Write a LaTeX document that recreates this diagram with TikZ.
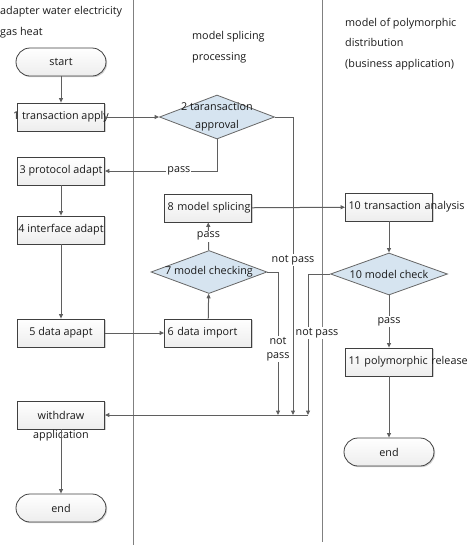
\documentclass[tikz,border=0pt]{standalone}
\usepackage{fontspec}
\setmainfont{Open Sans}
\usetikzlibrary{shapes.geometric,shadows,arrows.meta}
\definecolor{lanegray}{RGB}{128,128,128}
\definecolor{linegray}{RGB}{95,95,95}
\definecolor{checkblue}{RGB}{214,228,240}
\newcommand\boxtext[1]{\makebox[0pt]{#1}}

\begin{document}
\begin{tikzpicture}[
        x=1pt, y=-1pt,
        font=\fontsize{10.8}{12.5}\selectfont,
        every node/.style={text=black!90},
        flowbox/.style={draw=black!75, line width=0.8pt, top color=white, bottom color=gray!14,
                minimum width=87pt, minimum height=28pt, inner sep=0pt,
                drop shadow={shadow xshift=1.2pt, shadow yshift=-1.2pt, fill=gray!70}},
        leftbox/.style={text width=81pt, align=left},
        terminal/.style={draw=black!75, line width=0.8pt, rounded corners=14pt, top color=white, bottom color=gray!14,
                minimum width=90pt, minimum height=28pt, inner sep=0pt,
                drop shadow={shadow xshift=1.2pt, shadow yshift=-1.2pt, fill=gray!70}},
        check/.style={diamond, draw=black!60, line width=0.8pt, fill=checkblue, inner sep=0pt,
                minimum width=116pt, minimum height=43pt},
        flow/.style={draw=linegray, line width=1pt, -{Triangle[length=4.5pt,width=4pt]}},
        tag/.style={fill=white, inner sep=1pt}
    ]
    \useasboundingbox (0,0) rectangle (474,550);

    % lanes
    \draw[lanegray, line width=1pt] (133,0) -- (133,545);
    \draw[lanegray, line width=1pt] (322,0) -- (322,542);
    \node[anchor=west, align=left, inner sep=0pt] (laneadapt) at (0,22)
        {adapter water electricity\\[8pt]gas heat};
    \node[anchor=west, align=left, inner sep=0pt] (lanesplice) at (192,47)
        {model splicing\\[8pt]processing};
    \node[anchor=west, align=left, inner sep=0pt] (lanepoly) at (345,44)
        {model of polymorphic\\[8pt]distribution\\[8pt](business application)};

    % adapter lane
    \node[terminal] (start) at (61,62) {start};
    \node[flowbox] (apply) at (61,117) {\boxtext{1 transaction apply}};
    \node[flowbox] (protocol) at (61,171) {\boxtext{3 protocol adapt}};
    \node[flowbox] (interface) at (61,230) {\boxtext{4 interface adapt}};
    \node[flowbox] (adapt) at (61,333) {\boxtext{5 data apapt}};
    \node[flowbox, label={[inner sep=1pt]below:application}] (withdraw) at (61,415) {withdraw};
    \node[terminal] (endadapt) at (61,508) {end};

    % splicing lane
    \node[check, minimum width=115pt, minimum height=44pt, align=center] (approve) at (217,117)
        {\boxtext{2 taransaction}\\[6pt]\boxtext{approval}};
    \node[flowbox, leftbox] (splice) at (208,208) {\rlap{8 model splicing}};
    \node[check] (modelcheck) at (209,272) {\boxtext{7 model checking}};
    \node[flowbox, leftbox] (import) at (208,333) {\rlap{6 data import}};

    % polymorphic lane
    \node[flowbox, leftbox] (analysis) at (389,207) {\rlap{10 transaction analysis}};
    \node[check, minimum width=117pt, minimum height=42pt] (polycheck) at (389,274) {\boxtext{10 model check}};
    \node[flowbox, leftbox] (release) at (389,362) {\rlap{11 polymorphic release}};
    \node[terminal] (endpoly) at (389,452) {end};

    \coordinate (back7) at (278,415);
    \coordinate (back2) at (293,415);
    \coordinate (back10) at (308,415);

    \draw[flow] (start) -- (apply);
    \draw[flow] (apply) -- (approve);
    \draw[flow] (approve.south) |- node[tag, pos=0.67] {pass} (protocol.east);
    \draw[flow] (protocol) -- (interface);
    \draw[flow] (interface) -- (adapt);
    \draw[flow] (adapt) -- (import);
    \draw[flow] (import) -- (modelcheck);
    \draw[flow] (modelcheck) -- node[tag] {pass} (splice);
    \draw[flow] (splice) -- (analysis);
    \draw[flow] (analysis) -- (polycheck);
    \draw[flow] (polycheck) -- node[tag] {pass} (release);
    \draw[flow] (release) -- (endpoly);
    \draw[flow] (approve.east) -| node[tag, pos=0.74] {not pass} (back2);
    \draw[flow] (modelcheck.east) -| node[tag, align=center, pos=0.77] {not\\[2pt]pass} (back7);
    \draw[flow] (polycheck.west) -| node[tag, pos=0.71, xshift=9pt] {not pass} (back10);
    \draw[flow] (back10) -- (withdraw.east);
    \draw[flow] (withdraw) -- (endadapt);
\end{tikzpicture}
\end{document}
